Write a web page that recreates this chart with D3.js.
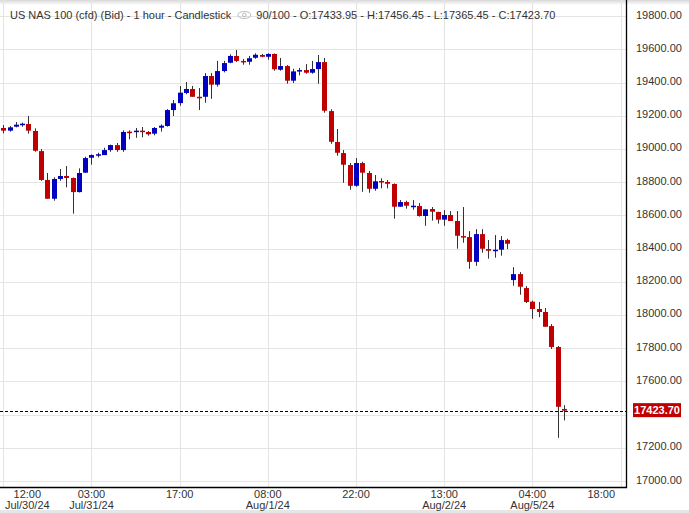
<!DOCTYPE html>
<html><head><meta charset="utf-8">
<script src="https://cdn.jsdelivr.net/npm/d3@7"></script>
<style>
html,body{margin:0;padding:0;background:#fff;}
svg{display:block;font-family:"Liberation Sans",Arial,sans-serif;}
</style></head>
<body>
<svg id="chart" width="689" height="513"></svg>
<script>
// ---- data ----
const opens  = [19126,19110,19134,19146,19150,19108,18987,18813,18700,18819,18837,18825,18740,18857,18947,18962,18963,18993,19023,18993,
                19104,19104,19110,19102,19092,19128,19138,19234,19276,19337,19361,19314,19314,19439,19387,19469,19519,19560,19530,19525,
                19549,19566,19555,19572,19477,19499,19411,19469,19475,19459,19481,19523,19228,19042,18975,18903,18778,18915,18855,18760,
                18807,18801,18789,18652,18680,18652,18656,18596,18638,18620,18574,18602,18566,18475,18469,18320,18487,18397,18387,18393,
                18451,18210,18246,18162,18080,18036,18018,17933,17807,17433.95];
const highs  = [19144,19138,19162,19158,19198,19124,18999,18855,18829,18879,18897,18828,18883,18953,18967,18977,19007,19026,19036,19112,
                19112,19126,19132,19108,19132,19148,19240,19295,19379,19403,19379,19367,19457,19457,19530,19530,19570,19596,19542,19560,
                19576,19572,19576,19575,19548,19505,19483,19487,19511,19530,19566,19548,19239,19120,18993,18915,18945,18923,18867,18843,
                18823,18813,18792,18692,18688,18692,18674,18638,18650,18622,18632,18626,18626,18650,18505,18517,18517,18451,18481,18475,
                18459,18288,18258,18174,18086,18078,18042,17945,17813,17456.45];
const lows   = [19094,19104,19130,19134,19092,18983,18808,18700,18688,18808,18769,18610,18738,18855,18905,18949,18963,18983,18983,18983,
                19058,19067,19070,19080,19082,19104,19134,19198,19260,19329,19314,19234,19278,19302,19375,19461,19516,19524,19507,19507,
                19543,19552,19537,19471,19471,19393,19397,19443,19453,19453,19393,19218,19031,18959,18796,18754,18772,18742,18736,18748,
                18763,18763,18580,18652,18640,18634,18592,18537,18568,18550,18537,18566,18399,18435,18278,18296,18375,18339,18345,18357,
                18397,18176,18122,18072,17977,17987,17929,17795,17260,17365.45];
const closes = [19110,19130,19146,19152,19110,18989,18813,18700,18819,18837,18825,18740,18855,18945,18963,18968,18993,19023,18993,19102,
                19098,19110,19104,19088,19126,19140,19234,19275,19339,19361,19314,19308,19439,19387,19469,19517,19560,19530,19525,19546,
                19567,19555,19572,19480,19499,19411,19467,19475,19459,19481,19523,19230,19043,18977,18905,18778,18915,18857,18760,18805,
                18801,18790,18652,18680,18658,18658,18596,18636,18622,18574,18602,18566,18477,18471,18320,18487,18399,18387,18393,18451,
                18429,18246,18170,18078,18036,18018,17929,17807,17447,17423.70];

const xTickIdx   = [0, 14, 28, 42, 56, 70, 84, 98];
const xTickTime  = ["12:00","03:00","17:00","08:00","22:00","13:00","04:00","18:00"];
const xTickDate  = ["Jul/30/24","Jul/31/24","","Aug/1/24","","Aug/2/24","Aug/5/24",""];
const yTicks     = [17000,17200,17400,17600,17800,18000,18200,18400,18600,18800,19000,19200,19400,19600,19800];
const lastPrice  = 17423.70;
const titleMain  = "US NAS 100 (cfd) (Bid) - 1 hour - Candlestick";
const titleInfo  = "90/100 - O:17433.95 - H:17456.45 - L:17365.45 - C:17423.70";

// ---- layout ----
const svg = d3.select("#chart");
const plotR = 626, plotB = 487;
const x = d3.scaleLinear().domain([0, 98]).range([3.3, 620.5]);
const y = d3.scaleLinear().domain([17000, 19800]).range([481, 16.1]);

// top shade & bottom strip
const defs = svg.append("defs");
const g1 = defs.append("linearGradient").attr("id","topg").attr("x1",0).attr("x2",0).attr("y1",0).attr("y2",1);
g1.append("stop").attr("offset","0%").attr("stop-color","#d8d8d8");
g1.append("stop").attr("offset","100%").attr("stop-color","#ffffff");
svg.append("rect").attr("x",0).attr("y",0).attr("width",689).attr("height",5).attr("fill","url(#topg)");
svg.append("rect").attr("x",0).attr("y",510).attr("width",689).attr("height",3).attr("fill","#e6e6e6");

// gridlines
svg.append("g").selectAll("line").data(yTicks).join("line")
  .attr("x1",0).attr("x2",plotR)
  .attr("y1",d=>Math.round(y(d))+0.5).attr("y2",d=>Math.round(y(d))+0.5)
  .attr("stroke","#e4e4e4").attr("stroke-width",1);
svg.append("g").selectAll("line").data(xTickIdx).join("line")
  .attr("x1",d=>Math.round(x(d))+0.5).attr("x2",d=>Math.round(x(d))+0.5)
  .attr("y1",0).attr("y2",plotB)
  .attr("stroke","#e4e4e4").attr("stroke-width",1);

// candles
const data = opens.map((o,i)=>({i,o,h:highs[i],l:lows[i],c:closes[i]}));
const cg = svg.append("g");
cg.selectAll("line").data(data).join("line")
  .attr("x1",d=>Math.round(x(d.i))+0.5).attr("x2",d=>Math.round(x(d.i))+0.5)
  .attr("y1",d=>y(d.h)).attr("y2",d=>y(d.l))
  .attr("stroke","#333").attr("stroke-width",1);
const bw = 5;
cg.selectAll("rect").data(data).join("rect")
  .attr("x",d=>Math.round(x(d.i))-2)
  .attr("width",bw)
  .attr("y",d=>y(Math.max(d.o,d.c)))
  .attr("height",d=>Math.max(1.5, Math.abs(y(d.o)-y(d.c))))
  .attr("fill",d=>d.c>=d.o?"#0000c0":"#c00000");

// last price dashed line
svg.append("line").attr("x1",0).attr("x2",plotR)
  .attr("y1",Math.round(y(lastPrice))+0.5).attr("y2",Math.round(y(lastPrice))+0.5)
  .attr("stroke","#000").attr("stroke-width",1).attr("stroke-dasharray","3,2");

// axes lines
svg.append("line").attr("x1",plotR+0.5).attr("x2",plotR+0.5).attr("y1",0).attr("y2",plotB+1)
  .attr("stroke","#000").attr("stroke-width",1.3);
svg.append("line").attr("x1",0).attr("x2",plotR+1).attr("y1",plotB+0.5).attr("y2",plotB+0.5)
  .attr("stroke","#000").attr("stroke-width",1.3);

// right axis labels
const lastY = y(lastPrice);
svg.append("g").selectAll("text").data(yTicks.filter(v=>Math.abs(y(v)-lastY)>10)).join("text")
  .attr("x",636).attr("y",d=>y(d)+2.5)
  .attr("font-size","11px").attr("fill","#333")
  .text(d=>d3.format(".2f")(d));
svg.append("rect").attr("x",633).attr("y",lastY-7.5).attr("width",48).attr("height",14).attr("fill","#c00000");
svg.append("text").attr("x",657).attr("y",lastY+3.5).attr("text-anchor","middle")
  .attr("font-size","11px").attr("font-weight","bold").attr("fill","#fff").text(d3.format(".2f")(lastPrice));

// bottom axis labels (clamped inside plot)
const xl = svg.append("g");
xTickIdx.forEach((idx,k)=>{
  const t = xl.append("g");
  const t1 = t.append("text").attr("y",498).attr("text-anchor","middle").attr("font-size","11px").attr("fill","#333").text(xTickTime[k]);
  const t2 = t.append("text").attr("y",508.5).attr("text-anchor","middle").attr("font-size","11px").attr("fill","#333").text(xTickDate[k]);
  const w = Math.max(t1.node().getComputedTextLength(), t2.node().getComputedTextLength());
  let cx = x(idx);
  if (cx - w/2 < 5) cx = 5 + w/2;
  if (cx + w/2 > 615) cx = 615 - w/2;
  t1.attr("x",cx); t2.attr("x",cx);
});

// title
const tt = svg.append("text").attr("x",10).attr("y",19).attr("font-size","11px").attr("fill","#333").text(titleMain);
const tw = tt.node().getComputedTextLength();
const ex = 10 + tw + 13;
svg.append("ellipse").attr("cx",ex).attr("cy",15).attr("rx",6.5).attr("ry",3.5).attr("fill","none").attr("stroke","#aaa").attr("stroke-width",0.8);
svg.append("circle").attr("cx",ex).attr("cy",15).attr("r",1.8).attr("fill","none").attr("stroke","#aaa").attr("stroke-width",0.8);
svg.append("text").attr("x",ex+12).attr("y",19).attr("font-size","11px").attr("fill","#333").text(titleInfo);
</script>
</body></html>
